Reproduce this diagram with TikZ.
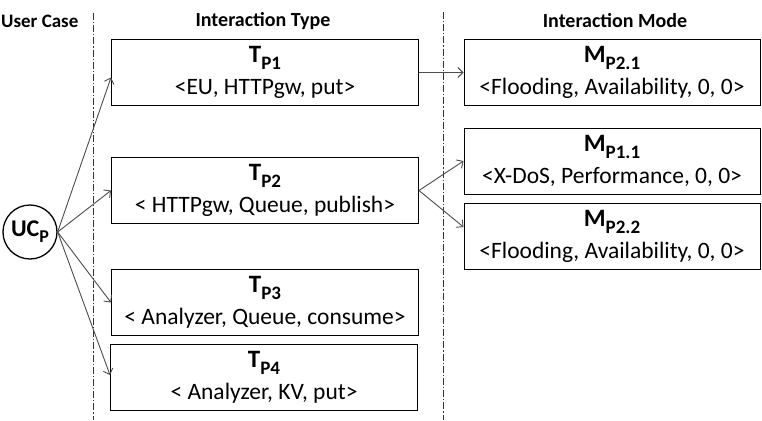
\documentclass[tikz,border=0pt]{standalone}
\usepackage{fontspec}
\setmainfont{Carlito}
\usetikzlibrary{arrows.meta,calc}
\newcommand{\ttl}[2]{\textbf{\fontsize{25}{25}\selectfont #1\raisebox{-7pt}{\fontsize{19}{19}\selectfont #2}}}
\newcommand{\uct}[2]{\textbf{\fontsize{24}{24}\selectfont #1\raisebox{-6pt}{\fontsize{18}{18}\selectfont #2}}}
\begin{document}
\begin{tikzpicture}[x=1pt,y=-1pt,
  hdr/.style={font=\fontsize{20}{22}\selectfont\bfseries, inner sep=0pt},
  tbox/.style={draw=black, line width=1pt, minimum width=307pt, minimum height=66pt, align=center, font=\fontsize{23.5}{32}\selectfont, inner sep=0pt},
  mbox/.style={draw=black, line width=1pt, minimum width=296pt, minimum height=66pt, align=center, font=\fontsize{23.5}{32}\selectfont, inner sep=0pt},
  ucnode/.style={draw=black, circle, line width=1.3pt, minimum size=54pt, inner sep=0pt},
  conn/.style={draw=black!70, line width=0.9pt, -{Straight Barb[length=5pt,width=10pt]}},
  sep/.style={draw=black!80, line width=0.8pt, dash pattern=on 7pt off 2pt on 1.2pt off 2pt}]
\useasboundingbox (0,0) rectangle (762,420);
% headers
\node[hdr, anchor=west, font=\fontsize{19}{21}\selectfont\bfseries] (h1) at (1,21) {User Case};
\node[hdr] (h2) at (263,21) {Interaction Type};
\node[hdr] (h3) at (615,21) {Interaction Mode};
% separators
\coordinate (s1a) at (93,13); \coordinate (s1b) at (93,420);
\coordinate (s2a) at (443,12); \coordinate (s2b) at (443,420);
\draw[sep] (s1a) -- (s1b);
\draw[sep] (s2a) -- (s2b);
% user case
\node[ucnode] (uc) at (30,232) {\uct{UC}{P}};
% type boxes
\node[tbox] (t1) at (265,72.5) {\ttl{T}{P1}\\<EU, HTTPgw, put>};
\node[tbox] (t2) at (265,190.5) {\ttl{T}{P2}\\< HTTPgw, Queue, publish>};
\node[tbox] (t3) at (265,302.5) {\ttl{T}{P3}\\< Analyzer, Queue, consume>};
\node[tbox] (t4) at (264,377) {\ttl{T}{P4}\\< Analyzer, KV, put>};
% mode boxes
\node[mbox] (m21) at (612,72.5) {\ttl{M}{P2.1}\\<Flooding, Availability, 0, 0>};
\node[mbox] (m11) at (612,161) {\ttl{M}{P1.1}\\<X-DoS, Performance, 0, 0>};
\node[mbox] (m22) at (612,236) {\ttl{M}{P2.2}\\<Flooding, Availability, 0, 0>};
% connectors
\draw[conn] (uc.east) -- ($(t1.west)+(0,5)$);
\draw[conn] (uc.east) -- (t2.west);
\draw[conn] (uc.east) -- (t3.west);
\draw[conn] (uc.east) -- ($(t4.west)+(0,-2)$);
\draw[conn] (t1.east) -- (m21.west);
\draw[conn] (t2.east) -- (m11.west);
\draw[conn] (t2.east) -- ($(m22.west)+(0,-9)$);
\end{tikzpicture}
\end{document}
